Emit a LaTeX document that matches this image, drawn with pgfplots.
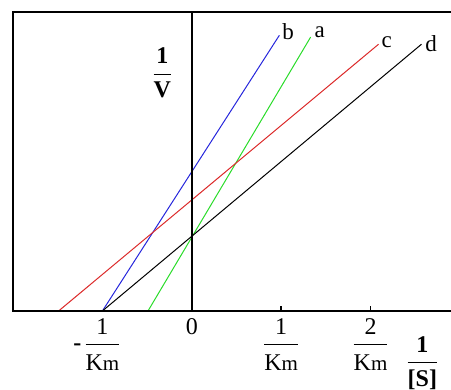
\documentclass[border=0pt]{standalone}
\usepackage{fontspec}
\setmainfont{Liberation Serif}
\usepackage{amsmath}
\usepackage{pgfplots}
\pgfplotsset{compat=1.18}
\definecolor{lnblue}{HTML}{2626DC}
\definecolor{lngreen}{HTML}{2ADC2A}
\definecolor{lnred}{HTML}{DC2A2A}
\newcommand{\km}{K{\fontsize{21}{21}\selectfont m}}
% fraction with extra room under the bar, as in the reference
\newcommand{\fr}[2]{$\dfrac{\text{#1}}{\text{\rule{0pt}{0.92em}#2}}$}

\begin{document}
\begin{tikzpicture}
\begin{axis}[
  scale only axis,
  width=438pt, height=299pt,
  xmin=-2, xmax=2.9, ymin=0, ymax=3.34,
  axis line style={draw=none},
  clip=false,
  ytick=\empty,
  xtick={1,2},
  xticklabels={\fr{1}{\km},\fr{2}{\km}},
  extra x ticks={-1,0},
  extra x tick labels={\makebox[0pt][r]{\textbf{-}\hspace{3pt}}\fr{1}{\km},0},
  extra x tick style={major tick length=0pt},
  xtick pos=bottom,
  tick align=inside,
  major tick length=5pt,
  every tick/.style={black,line width=1.4pt},
  tick label style={font=\fontsize{24}{28}\selectfont},
  xticklabel style={anchor=north,inner sep=1pt,yshift=-6pt},
]
\addplot[lnblue,line width=1pt] coordinates {(-1,0) (0.98,3.08)};
\addplot[lngreen,line width=1pt] coordinates {(-0.49,0) (1.33,3.06)};
\addplot[lnred,line width=1pt] coordinates {(-1.49,0) (2.09,2.98)};
\addplot[black,line width=1pt] coordinates {(-1,0) (2.57,2.98)};
\draw[line width=1.7pt] (rel axis cs:1,1) -- (rel axis cs:0,1) -- (rel axis cs:0,0) -- (rel axis cs:1,0);
\draw[line width=1.6pt] (axis cs:0,0) -- (axis cs:0,3.34);
\node[font=\fontsize{23}{26}\selectfont,anchor=west,inner sep=1pt] at (axis cs:1.0,3.12) {b};
\node[font=\fontsize{23}{26}\selectfont,anchor=west,inner sep=1pt] at (axis cs:1.36,3.11) {a};
\node[font=\fontsize{23}{26}\selectfont,anchor=west,inner sep=1pt] at (axis cs:2.11,3.0) {c};
\node[font=\fontsize{23}{26}\selectfont,anchor=west,inner sep=1pt] at (axis cs:2.6,2.99) {d};
\node[font=\fontsize{24}{28}\selectfont] at (axis cs:-0.33,2.66) {$\dfrac{\textbf{1}}{\textbf{V}}$};
\node[font=\fontsize{24}{28}\selectfont] at (axis cs:2.58,-0.58) {$\dfrac{\textbf{1}}{\textbf{[S]}}$};
\coordinate (sw) at (rel axis cs:0,0);
\end{axis}
\pgfresetboundingbox
\path[use as bounding box] (sw) ++(-13pt,-79pt) rectangle ++(451pt,390pt);
\end{tikzpicture}
\end{document}
